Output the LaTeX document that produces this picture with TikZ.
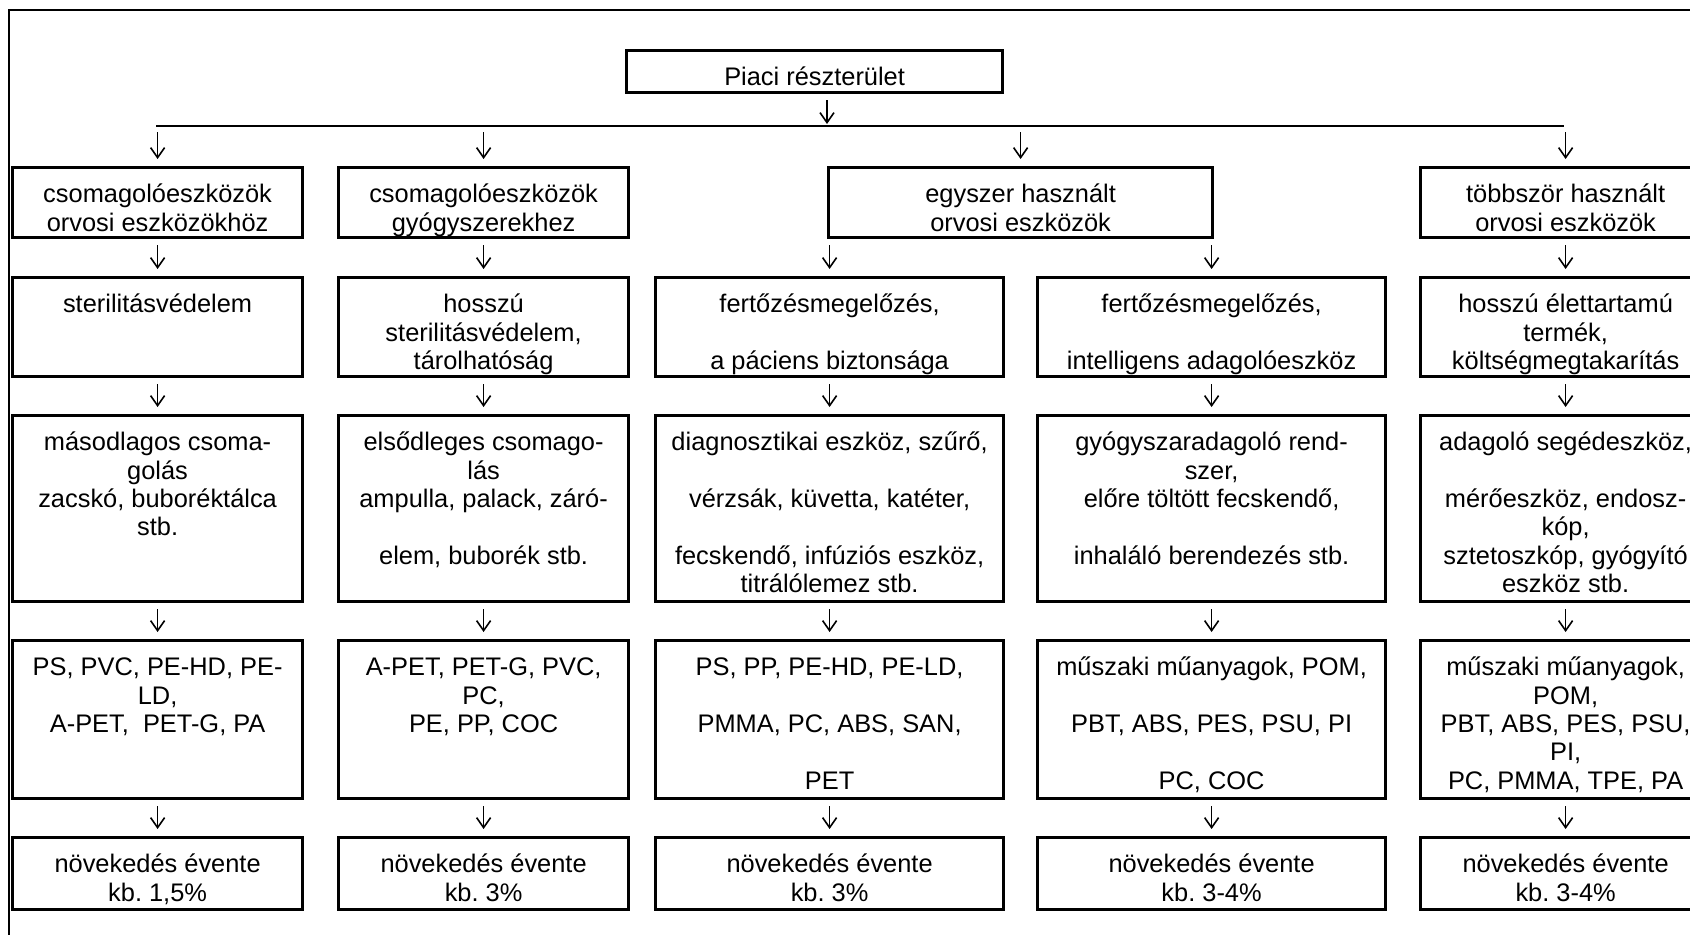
\documentclass[tikz,border=0pt]{standalone}
\usepackage{fontspec}
\setmainfont{Liberation Sans}
\usetikzlibrary{arrows.meta}
\frenchspacing
\newcommand{\boxtxt}[3]{\parbox[c][#2][t]{#1}{\lineskiplimit=-10pt\centering\rule{0pt}{17.5pt}#3}}

\begin{document}
\begin{tikzpicture}[x=0.5pt,y=-0.5pt,font=\fontsize{12.7pt}{14.2pt}\selectfont,
  box/.style={draw=black,line width=1.6pt,inner sep=0pt,anchor=north west},
  arr/.style={-{Straight Barb[length=5pt,width=7pt]},line width=0.8pt,shorten <=3pt,shorten >=3.5pt}]
\useasboundingbox (0,0) rectangle (1690,934);
\draw[line width=1.1pt] (9,960) |- (1720,10);

\node[box] (piaci) at (625,49) {\boxtxt{188pt}{21pt}{Piaci részterület}};

\node[box] (b1) at (11,166) {\boxtxt{145pt}{35pt}{csomagolóeszközök\\orvosi eszközökhöz}};
\node[box] (b2) at (337,166) {\boxtxt{145pt}{35pt}{csomagolóeszközök\\gyógyszerekhez}};
\node[box] (b3) at (827,166) {\boxtxt{192pt}{35pt}{egyszer használt\\orvosi eszközök}};
\node[box] (b4) at (1419,166) {\boxtxt{145pt}{35pt}{többször használt\\orvosi eszközök}};

\node[box] (c1) at (11,276) {\boxtxt{145pt}{49.5pt}{sterilitásvédelem}};
\node[box] (c2) at (337,276) {\boxtxt{145pt}{49.5pt}{hosszú\\sterilitásvédelem,\\tárolhatóság}};
\node[box] (c3) at (654,276) {\boxtxt{174pt}{49.5pt}{fertőzésmegelőzés,\\[\baselineskip]a páciens biztonsága}};
\node[box] (c4) at (1036,276) {\boxtxt{174pt}{49.5pt}{fertőzésmegelőzés,\\[\baselineskip]intelligens adagolóeszköz}};
\node[box] (c5) at (1419,276) {\boxtxt{145pt}{49.5pt}{hosszú élettartamú\\termék,\\költségmegtakarítás}};

\node[box] (d1) at (11,414) {\boxtxt{145pt}{93pt}{másodlagos csoma-\\golás\\zacskó, buboréktálca\\stb.}};
\node[box] (d2) at (337,414) {\boxtxt{145pt}{93pt}{elsődleges csomago-\\lás\\ampulla, palack, záró-\\[\baselineskip]elem, buborék stb.}};
\node[box] (d3) at (654,414) {\boxtxt{174pt}{93pt}{diagnosztikai eszköz, szűrő,\\[\baselineskip]vérzsák, küvetta, katéter,\\[\baselineskip]fecskendő, infúziós eszköz,\\titrálólemez stb.}};
\node[box] (d4) at (1036,414) {\boxtxt{174pt}{93pt}{gyógyszaradagoló rend-\\szer,\\előre töltött fecskendő,\\[\baselineskip]inhaláló berendezés stb.}};
\node[box] (d5) at (1419,414) {\boxtxt{145pt}{93pt}{adagoló segédeszköz,\\[\baselineskip]mérőeszköz, endosz-\\kóp,\\sztetoszkóp, gyógyító\\eszköz stb.}};

\node[box] (e1) at (11,639) {\boxtxt{145pt}{79pt}{PS, PVC, PE-HD, PE-\\LD,\\A-PET,~ PET-G, PA}};
\node[box] (e2) at (337,639) {\boxtxt{145pt}{79pt}{A-PET, PET-G, PVC,\\PC,\\PE, PP, COC}};
\node[box] (e3) at (654,639) {\boxtxt{174pt}{79pt}{PS, PP, PE-HD, PE-LD,\\[\baselineskip]PMMA, PC, ABS, SAN,\\[\baselineskip]PET}};
\node[box] (e4) at (1036,639) {\boxtxt{174pt}{79pt}{műszaki műanyagok, POM,\\[\baselineskip]PBT, ABS, PES, PSU, PI\\[\baselineskip]PC, COC}};
\node[box] (e5) at (1419,639) {\boxtxt{145pt}{79pt}{műszaki műanyagok,\\POM,\\PBT, ABS, PES, PSU,\\PI,\\PC, PMMA, TPE, PA}};

\node[box] (f1) at (11,836) {\boxtxt{145pt}{36pt}{növekedés évente\\kb. 1,5\%}};
\node[box] (f2) at (337,836) {\boxtxt{145pt}{36pt}{növekedés évente\\kb. 3\%}};
\node[box] (f3) at (654,836) {\boxtxt{174pt}{36pt}{növekedés évente\\kb. 3\%}};
\node[box] (f4) at (1036,836) {\boxtxt{174pt}{36pt}{növekedés évente\\kb. 3-4\%}};
\node[box] (f5) at (1419,836) {\boxtxt{145pt}{36pt}{növekedés évente\\kb. 3-4\%}};

\coordinate (bus) at (827,126);
\coordinate (busl) at (156,126);
\coordinate (busr) at (1564,126);
\draw[line width=1.25pt] (busl) -- (busr);
\draw[arr,shorten >=1pt] (piaci.south -| bus) -- (bus);

\draw[arr] (b1.north |- busl) -- (b1);
\draw[arr] (b2.north |- busl) -- (b2);
\draw[arr] (b3.north |- busl) -- (b3);
\draw[arr] (b4.north |- busl) -- (b4);

\draw[arr] (b1) -- (c1);
\draw[arr] (b2) -- (c2);
\draw[arr] (c3.north |- b3.south) -- (c3);
\draw[arr] (c4.north |- b3.south) -- (c4);
\draw[arr] (b4) -- (c5);

\draw[arr] (c1) -- (d1);
\draw[arr] (c2) -- (d2);
\draw[arr] (c3) -- (d3);
\draw[arr] (c4) -- (d4);
\draw[arr] (c5) -- (d5);

\draw[arr] (d1) -- (e1);
\draw[arr] (d2) -- (e2);
\draw[arr] (d3) -- (e3);
\draw[arr] (d4) -- (e4);
\draw[arr] (d5) -- (e5);

\draw[arr] (e1) -- (f1);
\draw[arr] (e2) -- (f2);
\draw[arr] (e3) -- (f3);
\draw[arr] (e4) -- (f4);
\draw[arr] (e5) -- (f5);
\end{tikzpicture}
\end{document}
